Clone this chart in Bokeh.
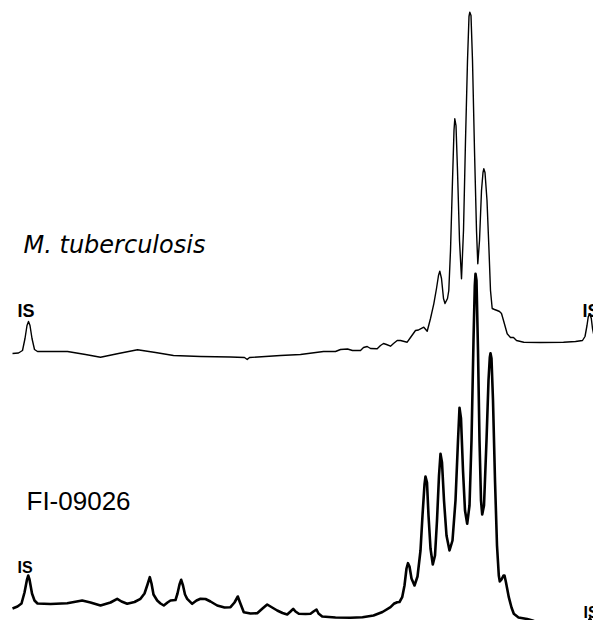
from bokeh.plotting import figure
from bokeh.models import Range1d, ColumnDataSource
from bokeh.core.properties import value
from bokeh.embed import file_html
from bokeh.resources import INLINE

# Retention position (arbitrary units) and detector depth (range is inverted)
mtb_time = [12, 18, 22, 24.5, 26.5, 28, 29.5, 31.5, 34, 37, 50, 67, 85, 100, 118, 137, 155, 173,
            200, 230, 244, 246.7, 249, 280, 300, 323, 335, 340, 347, 352, 360, 363, 366.7, 370,
            376.7, 380, 383, 386, 390, 393, 396.7, 400, 406.7, 410, 415, 418, 420, 423.3, 426.7,
            430, 433.3, 436, 438, 439.3, 441, 443, 444.5, 447, 448.3, 450, 452, 453.5, 454.3,
            455.5, 457, 459, 461, 463, 465, 467, 468.5, 469.3, 470.5, 472, 474, 476, 477.3, 479,
            481, 482.5, 483.3, 484.5, 486.5, 488.5, 490, 491.7, 494, 496.7, 499, 501, 503, 506.7,
            510, 513, 516, 523.3, 540, 563, 575, 582, 584.5, 586.5, 587.8, 589.3, 590.8, 592, 594]
mtb_signal = [353, 352.5, 350, 338, 325, 321, 325, 338, 349, 351, 351, 351, 354, 356.7, 353, 349.3,
              352, 355, 356, 356.5, 357, 359, 357, 355, 354, 351, 351, 349, 348.5, 350, 350, 347,
              346, 348, 348.3, 345, 343, 344, 345.7, 343, 340, 340, 341.7, 337, 330, 329.5, 328.3,
              326.7, 330.7, 318, 303.3, 288, 275, 270.7, 278, 298, 303, 298, 290, 250, 180, 130,
              118.3, 125, 170, 240, 278.3, 230, 140, 60, 16, 11.7, 15, 60, 150, 230, 263.3, 240,
              190, 172, 168.3, 172, 200, 250, 290, 308, 309, 310, 311, 313, 320, 333.3, 337, 337,
              340, 341.7, 342, 341.7, 341, 340, 336, 325, 316, 313.3, 318, 328, 338]

fi_time = [12, 17, 21, 24, 26.5, 27.7, 29, 31.5, 34, 37, 50, 66.7, 81.7, 90, 100, 110, 116.7, 121,
           126.7, 134, 140, 144, 147, 149.3, 151, 153, 156.7, 160, 163.3, 167, 170, 175, 177, 179,
           180.7, 182.5, 184.5, 186.7, 191.7, 196, 200, 205, 210, 216.7, 224, 230, 234, 237.3,
           239.5, 243.3, 250, 256.7, 262, 266.7, 270, 276.7, 282, 286.7, 290, 292.7, 295, 298.3,
           305, 310, 313, 316, 318, 321.7, 335, 350, 362, 373, 382, 390, 393.3, 396.7, 399, 401.7,
           404, 406, 407.5, 409, 411, 414, 417, 420, 422, 424, 425, 426.5, 428, 430, 432.3, 434.5,
           436.5, 438.5, 440, 441.5, 443.5, 446, 449, 452, 455, 457.5, 459, 460.5, 462.5, 464.5,
           466.7, 469, 471, 473, 474.3, 475, 476, 477.5, 479, 480.5, 481.7, 483.5, 486, 488, 489.3,
           490, 491, 492.5, 494.5, 496.5, 498.3, 499.3, 501, 503, 504, 505.5, 508.3, 511, 513.3,
           518, 526.7, 532, 540]
fi_signal = [608, 606, 603, 592, 579, 575, 579, 593, 600, 603, 603.5, 602.7, 600, 602, 605, 602,
             598.3, 601, 603.3, 601.5, 598.3, 593, 584, 576.7, 583, 594, 600, 603, 605, 602, 600,
             599.5, 593, 584, 579.3, 585, 594, 598.3, 603.3, 600, 598.3, 598.5, 601, 605, 607,
             606.7, 602, 596, 602, 611.7, 613, 612.7, 608, 604, 606, 610, 612.5, 614, 611, 608.3,
             611, 613.3, 613.5, 613.3, 611, 609, 613, 616, 617, 617.3, 616.8, 615, 611.5, 606.7,
             603.3, 601.7, 601.5, 596.7, 585, 568, 562.7, 566, 578, 585, 576, 550, 515, 484, 476,
             482, 515, 548, 564, 555, 520, 475, 453.3, 462, 500, 535, 550, 540, 500, 440, 407.3,
             418, 470, 510, 523.3, 505, 440, 340, 285, 273.3, 280, 350, 440, 500, 514, 505, 440,
             380, 357, 352.7, 358, 400, 480, 545, 575, 581, 579, 575, 575, 582, 596.7, 607, 613.3,
             617, 618.5, 620, 623]

label_text = ["M. tuberculosis", "FI-09026"]
label_x = [23, 26]
label_y = [244.5, 500]

is_x = [17, 17, 582, 583]
is_y = [310.7, 566.5, 310.5, 612]

p = figure(width=593, height=620, output_backend="svg", toolbar_location=None,
           x_range=Range1d(0, 593), y_range=Range1d(620, 0),
           min_border=0, min_border_left=0, min_border_right=0,
           min_border_top=0, min_border_bottom=0)
p.axis.visible = False
p.grid.visible = False
p.outline_line_color = None
p.background_fill_color = "white"
p.border_fill_color = "white"

p.line(mtb_time, mtb_signal, line_color="black", line_width=1.4, line_join="round")
p.line(fi_time, fi_signal, line_color="black", line_width=2.6, line_join="round")

p.text(x=[label_x[0]], y=[label_y[0]], text=[label_text[0]], text_font=value("DejaVu Sans"),
       text_font_size="24px", text_font_style="italic", text_baseline="alphabetic",
       text_align="left", text_color="black")
p.text(x=[label_x[1]], y=[label_y[1]], text=[label_text[1]], text_font=value("Liberation Sans"),
       text_font_size="26px", text_baseline="alphabetic", text_align="left", text_color="black")

src = ColumnDataSource(dict(x=is_x, y=is_y, t=["IS"] * 4, s=["18px", "16px", "18px", "16px"]))
p.text(x="x", y="y", text="t", source=src, text_font=value("Liberation Sans"),
       text_font_size="s", text_font_style="bold", text_baseline="alphabetic",
       text_align="left", text_color="black")

p.scatter(x=[589.5], y=[620], marker="triangle", size=6, color="black")

open("out.html", "w").write(file_html(p, INLINE))
